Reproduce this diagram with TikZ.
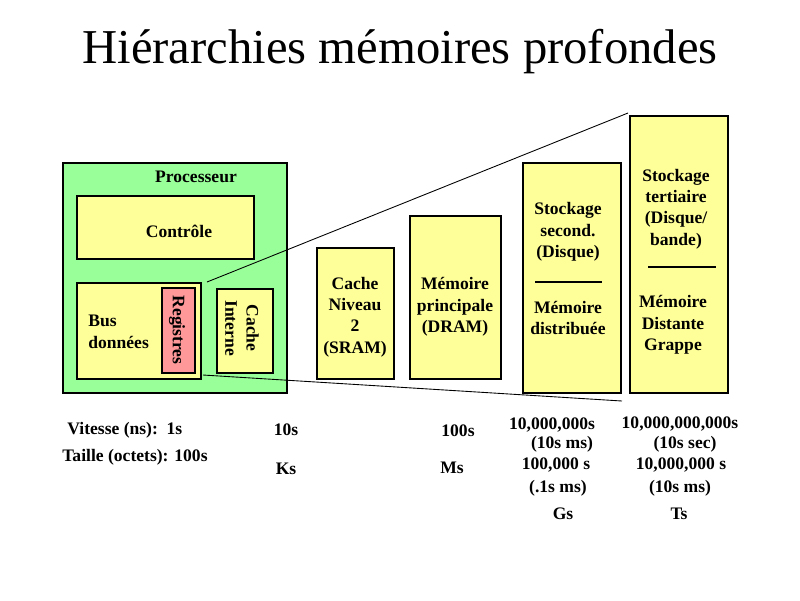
\documentclass[tikz,border=0pt]{standalone}
\usepackage{fontspec}
\setmainfont{Liberation Serif}
\usetikzlibrary{calc}
\definecolor{procgreen}{RGB}{153,255,153}
\definecolor{memyellow}{RGB}{255,255,153}
\definecolor{regred}{RGB}{255,153,153}

\begin{document}
\begin{tikzpicture}[x=0.02cm, y=-0.02cm,
	memo/.style={draw, line width=1.2pt, fill=memyellow},
	txt/.style={font=\fontsize{10}{12.2}\selectfont\bfseries, align=center, inner sep=0pt},
	zoomline/.style={line width=0.5pt}]
			%%%%% START %%%%%
			\useasboundingbox (0, 0) rectangle (800, 600);
			
			\node[font=\fontsize{27.7}{30}\selectfont, anchor=base] (title) at (400, 63) {Hiérarchies mémoires profondes};
			
			% processeur
			\draw[line width=1.2pt, fill=procgreen] (63, 163) rectangle (287, 393);
			\node[txt] (proc) at (196, 177) {Processeur};
			\draw[memo] (77, 196) rectangle (254, 259);
			\node[txt] (ctrl) at (179, 231) {Contrôle};
			\draw[memo] (77, 283) rectangle (201, 379);
			\node[txt, align=left, anchor=west] (bus) at (88, 332) {Bus\\données};
			\draw[line width=1.2pt, fill=regred] (162, 288) rectangle (195, 373);
			\node[txt, rotate=-90] (reg) at (177, 330) {Registres};
			\draw[memo] (217, 289) rectangle (273, 373);
			\node[txt, rotate=-90] (cachei) at (242, 328) {Cache\\Interne};
			
			% niveaux
			\draw[memo] (317, 248) rectangle (394, 379);
			\node[txt] (l2) at (355, 317) {Cache\\Niveau\\2\\(SRAM)};
			
			\draw[memo] (410, 216) rectangle (501, 379);
			\node[txt] (dram) at (455, 307) {Mémoire\\principale\\(DRAM)};
			
			\draw[memo] (523, 163) rectangle (621, 393);
			\node[txt] (disk) at (568, 232) {Stockage\\second.\\(Disque)};
			\draw[line width=0.6pt] (535, 282) -- (602, 282);
			\node[txt] (dist) at (568, 318) {Mémoire\\distribuée};
			
			\draw[memo] (630, 116) rectangle (728, 393);
			\node[txt] (tape) at (676, 209) {Stockage\\tertiaire\\(Disque/\\bande)};
			\draw[line width=0.6pt] (648, 267) -- (716, 267);
			\node[txt] (remote) at (673, 325) {Mémoire\\Distante\\Grappe};
			
			% free ends of the zoom lines
			\coordinate (zoomtop) at (207, 282);
			\coordinate (zoombot) at (203, 375);
			\coordinate (fartop) at (628, 113);
			\coordinate (farbot) at (622, 401);
			\draw[zoomline] (zoomtop) -- (fartop);
			\draw[zoomline] (zoombot) -- (farbot);
			
			% vitesse et taille
			\node[txt, anchor=west] (speed) at (67, 430) {Vitesse (ns):\ \ 1s};
			\node[txt, anchor=west] (size) at (62, 457) {Taille (octets): 100s};
			\node[txt] (speedl2) at (286, 430) {10s};
			\node[txt] (sizel2) at (286, 469) {Ks};
			\node[txt] (speeddram) at (458, 431) {100s};
			\node[txt] (sizedram) at (452, 468) {Ms};
			\node[txt] (speeddisk) at (552, 425) {10,000,000s};
			\node[txt] (speeddiskms) at (562, 444) {(10s ms)};
			\node[txt] (sizedisk) at (556, 465) {100,000 s};
			\node[txt] (sizediskms) at (558, 488) {(.1s ms)};
			\node[txt] (unitdisk) at (563, 514) {Gs};
			\node[txt] (speedtape) at (680, 424) {10,000,000,000s};
			\node[txt] (speedtapesec) at (685, 444) {(10s sec)};
			\node[txt] (sizetape) at (681, 465) {10,000,000 s};
			\node[txt] (sizetapems) at (680, 488) {(10s ms)};
			\node[txt] (unittape) at (679, 514) {Ts};
			%%%%% END %%%%%
\end{tikzpicture}
\end{document}
